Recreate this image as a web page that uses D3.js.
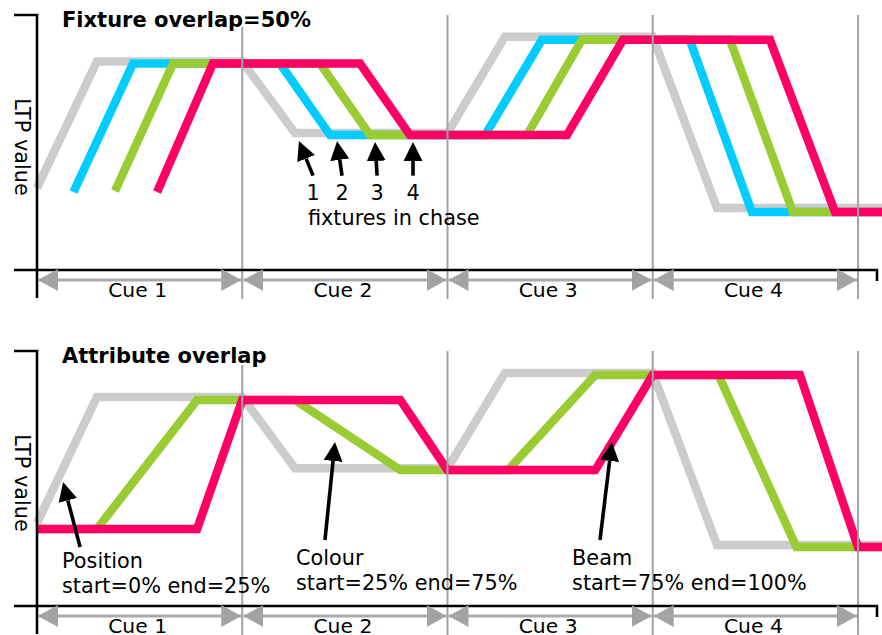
<!DOCTYPE html>
<html>
<head>
<meta charset="utf-8">
<script src="https://cdn.jsdelivr.net/npm/d3@7"></script>
<style>
  html, body { margin: 0; padding: 0; background: #fff; }
  svg { display: block; }
  text { font-family: "DejaVu Sans", Verdana, sans-serif; fill: #000; }
</style>
</head>
<body>
<svg id="chart" width="882" height="635"></svg>
<script>
// ---------------- data ----------------
const cueLabels = ["Cue 1", "Cue 2", "Cue 3", "Cue 4"];
const cueBoundaries = [0, 1, 2, 3, 4];
const panelTitles = ["Fixture overlap=50%", "Attribute overlap"];
const yAxisLabel = "LTP value";

// Top panel: four fixtures in a chase, points are [cue time, LTP value]
const fixture1 = [[0, 32.2], [0.292, 81.8], [1, 81.8], [1.257, 53.7], [2, 53.7], [2.28, 91.5], [3, 91.5], [3.313, 24.3], [4.2, 24.3]];
const fixture2 = [[0.178, 30.6], [0.468, 81], [1.184, 81], [1.428, 52.9], [2.183, 52.9], [2.46, 90.3], [3.18, 90.3], [3.483, 22.7], [4.2, 22.7]];
const fixture3 = [[0.38, 31], [0.663, 81], [1.379, 81], [1.622, 52.9], [2.387, 52.9], [2.655, 90.3], [3.376, 90.3], [3.683, 22.7], [4.2, 22.7]];
const fixture4 = [[0.585, 30.6], [0.857, 81], [1.574, 81], [1.817, 52.9], [2.582, 52.9], [2.855, 90.3], [3.571, 90.3], [3.888, 22.7], [4.2, 22.7]];
const fixtureNames = ["1", "2", "3", "4"];
const chaseLabel = "fixtures in chase";

// Bottom panel: three attributes of one fixture
const position = [[0, 32.5], [0.292, 82], [1, 82], [1.257, 54], [2, 54], [2.28, 91.4], [3, 91.4], [3.313, 23.9], [4.2, 23.9]];
const colour = [[0, 30.2], [0.292, 30.2], [0.78, 80.8], [1.257, 80.8], [1.77, 53.3], [2.295, 53.3], [2.72, 90.6], [3.32, 90.6], [3.70, 23.1], [4.2, 23.1]];
const beam = [[0, 30.2], [0.78, 30.2], [1, 80.8], [1.77, 80.8], [2, 53.3], [2.72, 53.3], [3, 90.6], [3.717, 90.6], [4, 23.1], [4.2, 23.1]];
const attributeNames = ["Position", "Colour", "Beam"];
const attributeRanges = ["start=0% end=25%", "start=25% end=75%", "start=75% end=100%"];

// Annotation anchors in data units: [tip t, tip v, tail t, tail v]
const fixtureArrows = [[1.276, 50.6, 1.345, 37], [1.462, 50.6, 1.486, 37], [1.647, 50.2, 1.657, 37], [1.832, 50.2, 1.832, 37]];
const fixtureLabelAt = [[1.345, 27.5], [1.486, 27.5], [1.657, 27.5], [1.832, 27.5]];
const chaseLabelAt = [1.32, 17.6];
const attributeArrows = [[0.127, 48.6, 0.21, 23.1], [1.452, 64.3, 1.403, 25.9], [2.801, 64.3, 2.743, 25.9]];
const attributeLabelAt = [[0.122, 14.9, 5.1], [1.262, 16.1, 6.3], [2.607, 16.1, 6.3]];

// ---------------- drawing ----------------
const colors = { gray: "#cccccc", blue: "#00ccff", green: "#99cc33", pink: "#ff0066", cue: "#a3a3a3" };
const textSize = 20.8;
const svg = d3.select("#chart");
const defs = svg.append("defs");
defs.append("marker").attr("id", "blackHead").attr("markerUnits", "userSpaceOnUse")
  .attr("viewBox", "0 -10 20 20").attr("refX", 0).attr("refY", 0)
  .attr("markerWidth", 20).attr("markerHeight", 20).attr("orient", "auto")
  .append("path").attr("d", "M0,-9.5L19,0L0,9.5Z").attr("fill", "#000");
defs.append("marker").attr("id", "grayHead").attr("markerUnits", "userSpaceOnUse")
  .attr("viewBox", "0 -12 22 24").attr("refX", 20).attr("refY", 0)
  .attr("markerWidth", 22).attr("markerHeight", 24).attr("orient", "auto-start-reverse")
  .append("path").attr("d", "M0,-11L20,0L0,11Z").attr("fill", colors.cue);

const x = d3.scaleLinear().domain([0, 4]).range([37, 858]);

function drawPanel(offsetY, title, series) {
  const y = d3.scaleLinear().domain([0, 100]).range([270 + offsetY, 15 + offsetY]);
  const g = svg.append("g");
  const line = d3.line().x(d => x(d[0])).y(d => y(d[1]));

  // data lines
  g.selectAll("path.series").data(series).join("path")
    .attr("class", "series")
    .attr("d", d => line(d.values))
    .attr("fill", "none")
    .attr("stroke", d => d.color)
    .attr("stroke-width", 8.5)
    .attr("stroke-linejoin", "miter")
    .attr("stroke-linecap", "butt");

  // cue boundary lines
  g.selectAll("line.cue").data(cueBoundaries.slice(1)).join("line")
    .attr("class", "cue")
    .attr("x1", d => x(d)).attr("x2", d => x(d))
    .attr("y1", y(100)).attr("y2", y(0) + 29)
    .attr("stroke", colors.cue).attr("stroke-width", 2);

  // axes
  g.append("path")
    .attr("d", `M${x(0) - 23},${y(100)}H${x(0)}V${y(0) + 28}`)
    .attr("fill", "none").attr("stroke", "#000").attr("stroke-width", 2.6);
  g.append("path")
    .attr("d", `M${x(0) - 23},${y(0)}H${x(4) + 19}V${y(0) + 11}`)
    .attr("fill", "none").attr("stroke", "#000").attr("stroke-width", 2.6);

  // cue span arrows and labels
  const cueY = y(0) + 10;
  g.selectAll("line.span").data(cueLabels).join("line")
    .attr("class", "span")
    .attr("x1", (d, i) => x(cueBoundaries[i]) + 1)
    .attr("x2", (d, i) => x(cueBoundaries[i + 1]) - 1)
    .attr("y1", cueY).attr("y2", cueY)
    .attr("stroke", "#aaaaaa").attr("stroke-width", 3)
    .attr("marker-start", "url(#grayHead)")
    .attr("marker-end", "url(#grayHead)");
  g.selectAll("text.cueLabel").data(cueLabels).join("text")
    .attr("class", "cueLabel")
    .attr("x", (d, i) => (x(cueBoundaries[i]) + x(cueBoundaries[i + 1])) / 2 - 2)
    .attr("y", y(0) + 27)
    .attr("text-anchor", "middle")
    .attr("font-size", 20.3)
    .text(d => d);

  // y label
  g.append("text")
    .attr("transform", `translate(15,${y(0) - 123}) rotate(90)`)
    .attr("text-anchor", "middle")
    .attr("font-size", textSize)
    .text(yAxisLabel);

  // title
  g.append("text")
    .attr("x", 62).attr("y", y(100) + 12)
    .attr("font-size", 21).attr("font-weight", "bold")
    .attr("stroke", "#fff").attr("stroke-width", 4).attr("paint-order", "stroke")
    .text(title);

  return { g, y };
}

function drawArrows(g, y, arrows) {
  g.selectAll("line.ann").data(arrows).join("line")
    .attr("class", "ann")
    .each(function (d) {
      const tx = x(d[0]), ty = y(d[1]), bx = x(d[2]), by = y(d[3]);
      const len = Math.hypot(tx - bx, ty - by);
      const ux = (tx - bx) / len, uy = (ty - by) / len;
      d3.select(this)
        .attr("x1", bx).attr("y1", by)
        .attr("x2", tx - ux * 19).attr("y2", ty - uy * 19);
    })
    .attr("stroke", "#000").attr("stroke-width", 3.6)
    .attr("marker-end", "url(#blackHead)");
}

// top panel
const topPanel = drawPanel(0, panelTitles[0], [
  { values: fixture1, color: colors.gray },
  { values: fixture2, color: colors.blue },
  { values: fixture3, color: colors.green },
  { values: fixture4, color: colors.pink }
]);
drawArrows(topPanel.g, topPanel.y, fixtureArrows);
topPanel.g.selectAll("text.fixNum").data(fixtureNames).join("text")
  .attr("class", "fixNum")
  .attr("x", (d, i) => x(fixtureLabelAt[i][0]))
  .attr("y", (d, i) => topPanel.y(fixtureLabelAt[i][1]))
  .attr("text-anchor", "middle").attr("font-size", textSize)
  .text(d => d);
topPanel.g.append("text")
  .attr("x", x(chaseLabelAt[0])).attr("y", topPanel.y(chaseLabelAt[1]))
  .attr("font-size", textSize)
  .text(chaseLabel);

// bottom panel
const bottomPanel = drawPanel(336, panelTitles[1], [
  { values: position, color: colors.gray },
  { values: colour, color: colors.green },
  { values: beam, color: colors.pink }
]);
drawArrows(bottomPanel.g, bottomPanel.y, attributeArrows);
const attrText = bottomPanel.g.selectAll("text.attr").data(attributeNames).join("text")
  .attr("class", "attr")
  .attr("font-size", textSize);
attrText.append("tspan")
  .attr("x", (d, i) => x(attributeLabelAt[i][0]))
  .attr("y", (d, i) => bottomPanel.y(attributeLabelAt[i][1]))
  .text(d => d);
attrText.append("tspan")
  .attr("x", (d, i) => x(attributeLabelAt[i][0]))
  .attr("y", (d, i) => bottomPanel.y(attributeLabelAt[i][2]))
  .text((d, i) => attributeRanges[i]);
</script>
</body>
</html>
